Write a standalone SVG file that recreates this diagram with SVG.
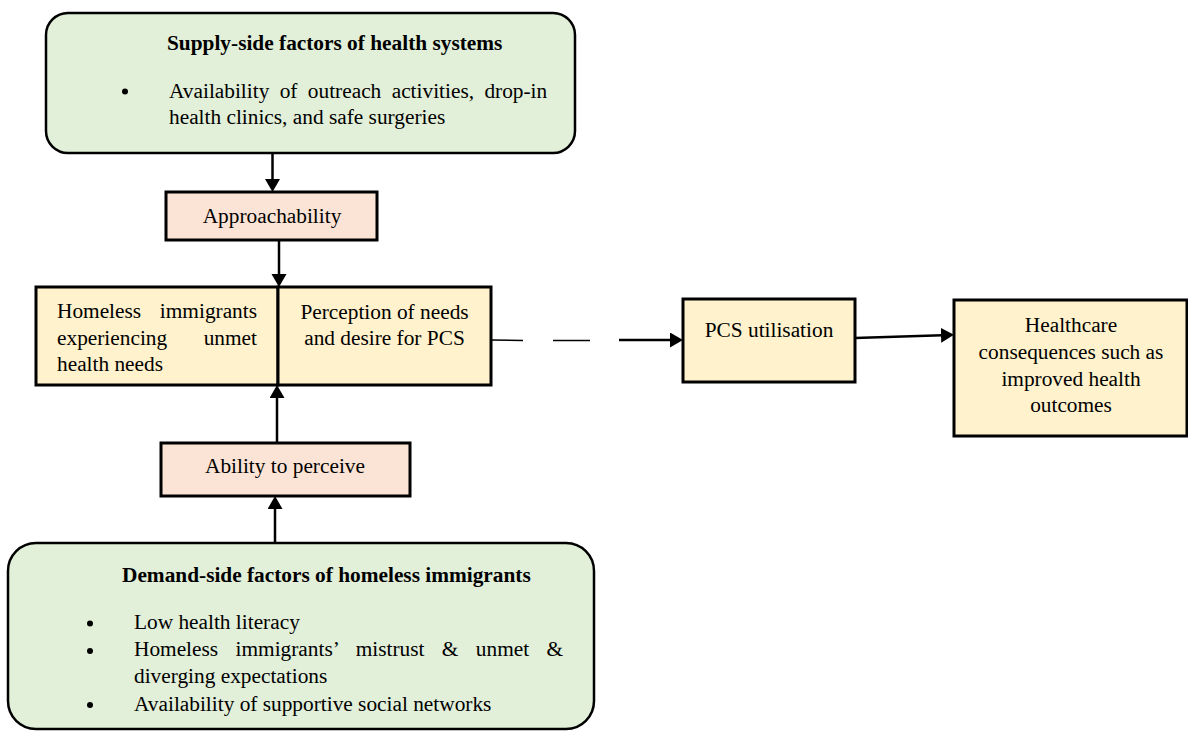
<svg xmlns="http://www.w3.org/2000/svg" width="1188" height="731" viewBox="0 0 1188 731">
  <defs>
    <style>
      .txt { font-family: "Liberation Serif", "Times New Roman", serif; font-size: 21.33px; fill: #000; }
      .bold { font-weight: bold; }
      .mid { text-anchor: middle; }
      .green { fill: #E2EFD9; stroke: #000; stroke-width: 2.5; }
      .peach { fill: #FBE4D5; stroke: #000; stroke-width: 3; }
      .yellow { fill: #FFF2CC; stroke: #000; stroke-width: 3; }
      .conn { stroke: #000; stroke-width: 2.5; fill: none; }
      .thin { stroke: #000; stroke-width: 1.5; fill: none; }
      .dot { fill: #000; }
    </style>
    <marker id="arrow" markerUnits="userSpaceOnUse" markerWidth="14" markerHeight="16" refX="9" refY="7.5" orient="auto">
      <path d="M0,0 L13,7.5 L0,15 Z" fill="#000"/>
    </marker>
  </defs>

  <!-- Supply side -->
  <g id="supply">
    <rect class="green" x="46" y="13" width="529" height="140" rx="22" ry="22"/>
    <text class="txt bold" x="167" y="50">Supply-side factors of health systems</text>
    <circle class="dot" cx="125" cy="91.5" r="3"/>
    <text class="txt" x="169" y="98" word-spacing="5.07">Availability of outreach activities, drop-in</text>
    <text class="txt" x="169" y="124">health clinics, and safe surgeries</text>
  </g>

  <!-- Approachability -->
  <g id="approachability">
    <rect class="peach" x="166" y="192" width="211" height="48"/>
    <text class="txt mid" x="272" y="223">Approachability</text>
  </g>

  <!-- Unmet needs / perception -->
  <g id="needs">
    <rect class="yellow" x="36" y="287" width="242" height="98"/>
    <text class="txt" x="57" y="318" word-spacing="13.4">Homeless immigrants</text>
    <text class="txt" x="57" y="345" word-spacing="31.2">experiencing unmet</text>
    <text class="txt" x="57" y="371">health needs</text>
  </g>
  <g id="perception">
    <rect class="yellow" x="278" y="287" width="213" height="98"/>
    <text class="txt mid" x="384.5" y="319">Perception of needs</text>
    <text class="txt mid" x="384.5" y="345">and desire for PCS</text>
  </g>

  <!-- Ability to perceive -->
  <g id="ability">
    <rect class="peach" x="161" y="443" width="249" height="53"/>
    <text class="txt mid" x="285" y="473">Ability to perceive</text>
  </g>

  <!-- Demand side -->
  <g id="demand">
    <rect class="green" x="8" y="543" width="586" height="186" rx="28" ry="28"/>
    <text class="txt bold" x="122" y="582">Demand-side factors of homeless immigrants</text>
    <circle class="dot" cx="90" cy="623.5" r="3"/>
    <text class="txt" x="134" y="629">Low health literacy</text>
    <circle class="dot" cx="90" cy="651" r="3"/>
    <text class="txt" x="134" y="656" word-spacing="12.1">Homeless immigrants’ mistrust &amp; unmet &amp;</text>
    <text class="txt" x="134" y="683">diverging expectations</text>
    <circle class="dot" cx="90" cy="705" r="3"/>
    <text class="txt" x="134" y="711">Availability of supportive social networks</text>
  </g>

  <!-- PCS utilisation -->
  <g id="pcs">
    <rect class="yellow" x="683" y="299" width="172" height="83"/>
    <text class="txt mid" x="769" y="337">PCS utilisation</text>
  </g>

  <!-- Outcomes -->
  <g id="outcomes">
    <rect class="yellow" x="954" y="300" width="233" height="136"/>
    <text class="txt mid" x="1071" y="332">Healthcare</text>
    <text class="txt mid" x="1071" y="359">consequences such as</text>
    <text class="txt mid" x="1071" y="386">improved health</text>
    <text class="txt mid" x="1071" y="412">outcomes</text>
  </g>

  <!-- Connectors -->
  <g id="connectors">
    <line class="conn" x1="272.5" y1="153" x2="272.5" y2="188" marker-end="url(#arrow)"/>
    <line class="conn" x1="279" y1="240" x2="279" y2="283" marker-end="url(#arrow)"/>
    <line class="conn" x1="277" y1="443" x2="277" y2="389" marker-end="url(#arrow)"/>
    <line class="conn" x1="275" y1="543" x2="275" y2="500" marker-end="url(#arrow)"/>
    <line class="thin" x1="491" y1="340" x2="523" y2="340.5"/>
    <line class="thin" x1="553" y1="340.5" x2="590" y2="340.5"/>
    <line class="conn" x1="619" y1="340" x2="679" y2="340" marker-end="url(#arrow)"/>
    <line class="conn" x1="855" y1="338" x2="950" y2="335" marker-end="url(#arrow)"/>
  </g>
</svg>
